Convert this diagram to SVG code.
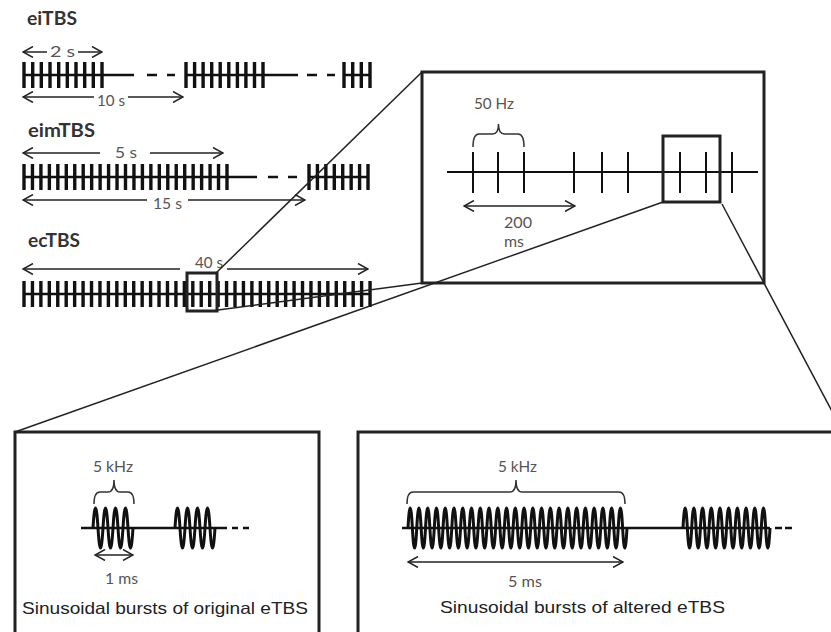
<svg xmlns="http://www.w3.org/2000/svg" width="831" height="632" viewBox="0 0 831 632">
<defs>
<style>
.t{font-family:Lato,"Open Sans",sans-serif;font-weight:bold;font-size:18.5px;fill:#333}
.g{font-family:Lato,"Open Sans",sans-serif;font-size:15.5px;fill:#555}
.cap{font-family:"Liberation Sans",Arial,sans-serif;font-size:16.5px;fill:#222}
.tick{stroke:#111;stroke-width:3.4;fill:none}
.thin{stroke:#111;stroke-width:2;fill:none}
.axis{stroke:#111;stroke-width:2.5;fill:none}
.box{fill:none;stroke:#222;stroke-width:3}
.arr{stroke:#222;stroke-width:1.5;fill:none}
.conn{stroke:#222;stroke-width:1.5;fill:none}
.sine{stroke:#111;stroke-width:3;fill:none}
.brace{stroke:#333;stroke-width:1.5;fill:none}
</style>
<marker id="ah" viewBox="0 0 12 12" refX="11" refY="6" markerWidth="12" markerHeight="12" orient="auto-start-reverse" markerUnits="userSpaceOnUse">
<path d="M1,0.5 L11,6 L1,11.5" fill="none" stroke="#222" stroke-width="1.5"/>
</marker>
</defs>
<rect width="831" height="632" fill="#fff"/>

<g id="eiTBS">
<text class="t" x="27" y="25" textLength="50" lengthAdjust="spacingAndGlyphs">eiTBS</text>
<line class="arr" x1="23" y1="52" x2="47" y2="52" marker-start="url(#ah)"/>
<line class="arr" x1="78" y1="52" x2="102" y2="52" marker-end="url(#ah)"/>
<text class="g" x="50" y="57" textLength="25" lengthAdjust="spacingAndGlyphs">2 s</text>
<path class="axis" d="M23,75H134M147,75H157M167,75H175M186,75H298M307,75H317M327,75H335M344,75H370"/>
<path class="tick" d="M24,62v26M32.7,62v26M41.3,62v26M50,62v26M58.7,62v26M67.3,62v26M76,62v26M84.7,62v26M93.3,62v26M102,62v26M186,62v26M194.6,62v26M203.1,62v26M211.7,62v26M220.2,62v26M228.8,62v26M237.4,62v26M245.9,62v26M254.5,62v26M263,62v26M344,62v26M352.7,62v26M361.3,62v26M370,62v26"/>
<line class="arr" x1="23" y1="97" x2="94" y2="97" marker-start="url(#ah)"/>
<line class="arr" x1="128" y1="97" x2="183" y2="97" marker-end="url(#ah)"/>
<text class="g" x="97" y="106" textLength="28" lengthAdjust="spacingAndGlyphs">10 s</text>
</g>

<g id="eimTBS">
<text class="t" x="28" y="137" textLength="67" lengthAdjust="spacingAndGlyphs">eimTBS</text>
<line class="arr" x1="23" y1="153" x2="100" y2="153" marker-start="url(#ah)"/>
<line class="arr" x1="150" y1="153" x2="223" y2="153" marker-end="url(#ah)"/>
<text class="g" x="115" y="158" textLength="22" lengthAdjust="spacingAndGlyphs">5 s</text>
<path class="axis" d="M23,177H257M268,177H278M288,177H297M308,177H369"/>
<path class="tick" d="M24,164v26m8.458,-26v26m8.458,-26v26m8.458,-26v26m8.458,-26v26m8.458,-26v26m8.458,-26v26m8.458,-26v26m8.458,-26v26m8.458,-26v26m8.458,-26v26m8.458,-26v26m8.458,-26v26m8.458,-26v26m8.458,-26v26m8.458,-26v26m8.458,-26v26m8.458,-26v26m8.458,-26v26m8.458,-26v26m8.458,-26v26m8.458,-26v26m8.458,-26v26m8.458,-26v26m8.458,-26v26M309,164v26m8.43,-26v26m8.43,-26v26m8.43,-26v26m8.43,-26v26m8.43,-26v26m8.43,-26v26m8.43,-26v26"/>
<line class="arr" x1="23" y1="200" x2="147" y2="200" marker-start="url(#ah)"/>
<line class="arr" x1="188" y1="200" x2="305" y2="200" marker-end="url(#ah)"/>
<text class="g" x="153" y="209" textLength="29" lengthAdjust="spacingAndGlyphs">15 s</text>
</g>

<g id="ecTBS">
<text class="t" x="28" y="247" textLength="52" lengthAdjust="spacingAndGlyphs">ecTBS</text>
<line class="arr" x1="23" y1="269" x2="180" y2="269" marker-start="url(#ah)"/>
<line class="arr" x1="227" y1="269" x2="368" y2="269" marker-end="url(#ah)"/>
<text class="g" x="195" y="268" textLength="28" lengthAdjust="spacingAndGlyphs">40 s</text>
<path class="axis" d="M23,294H371"/>
<path class="tick" d="M24,281v26m8.44,-26v26m8.44,-26v26m8.44,-26v26m8.44,-26v26m8.44,-26v26m8.44,-26v26m8.44,-26v26m8.44,-26v26m8.44,-26v26m8.44,-26v26m8.44,-26v26m8.44,-26v26m8.44,-26v26m8.44,-26v26m8.44,-26v26m8.44,-26v26m8.44,-26v26m8.44,-26v26m8.44,-26v26m8.44,-26v26m8.44,-26v26m8.44,-26v26m8.44,-26v26m8.44,-26v26m8.44,-26v26m8.44,-26v26m8.44,-26v26m8.44,-26v26m8.44,-26v26m8.44,-26v26m8.44,-26v26m8.44,-26v26m8.44,-26v26m8.44,-26v26m8.44,-26v26m8.44,-26v26m8.44,-26v26m8.44,-26v26m8.44,-26v26m8.44,-26v26m8.44,-26v26"/>
<rect class="box" x="187" y="273" width="30" height="38"/>
</g>

<g id="zoom-50Hz">
<rect class="box" x="422" y="72" width="342" height="211"/>
<text class="g" x="474" y="109" textLength="40" lengthAdjust="spacingAndGlyphs">50 Hz</text>
<path class="brace" d="M473,147Q473,134 479,134H492.5Q498.5,134 498.5,124Q498.5,134 504.5,134H518Q524,134 524,147"/>
<path class="thin" d="M447,172H758"/>
<path class="thin" d="M473,152v41M498,152v41M524,152v41M574,152v41M602,152v41M628,152v41M680,152v41M706,152v41M732,152v41"/>
<line class="arr" x1="464" y1="206" x2="575" y2="206" marker-start="url(#ah)" marker-end="url(#ah)"/>
<text class="g" x="504" y="228" textLength="28" lengthAdjust="spacingAndGlyphs">200</text>
<text class="g" x="504" y="247" textLength="20" lengthAdjust="spacingAndGlyphs">ms</text>
<rect class="box" x="663" y="136" width="57" height="66"/>
</g>

<g id="burst-original">
<rect class="box" x="15" y="432" width="304" height="210"/>
<text class="g" x="93" y="472" textLength="40" lengthAdjust="spacingAndGlyphs">5 kHz</text>
<path class="brace" d="M94,504Q94,492 100,492H108Q114,492 114,480Q114,492 120,492H128Q134,492 134,504"/>
<path class="axis" d="M81,528H227M232,528H238M243,528H249"/>
<path class="sine" d="M93,528c1.67,-26.7 3.330,-26.7 5,0c1.67,26.7 3.33,26.7 5,0c1.67,-26.7 3.33,-26.7 5,0c1.67,26.7 3.33,26.7 5,0c1.67,-26.7 3.33,-26.7 5,0c1.67,26.7 3.33,26.7 5,0c1.67,-26.7 3.33,-26.7 5,0c1.67,26.7 3.33,26.7 5,0M175,528c1.67,-26.7 3.33,-26.7 5,0c1.67,26.7 3.33,26.7 5,0c1.67,-26.7 3.33,-26.7 5,0c1.67,26.7 3.33,26.7 5,0c1.67,-26.7 3.33,-26.7 5,0c1.67,26.7 3.33,26.7 5,0c1.67,-26.7 3.33,-26.7 5,0c1.67,26.7 3.33,26.7 5,0"/>
<line class="arr" x1="95" y1="555" x2="133" y2="555" marker-start="url(#ah)" marker-end="url(#ah)"/>
<text class="g" x="105" y="584" textLength="33" lengthAdjust="spacingAndGlyphs">1 ms</text>
<text class="cap" x="22" y="614" textLength="286" lengthAdjust="spacingAndGlyphs">Sinusoidal bursts of original eTBS</text>
</g>

<g id="burst-altered">
<rect class="box" x="358" y="432" width="490" height="210"/>
<text class="g" x="498" y="472" textLength="39" lengthAdjust="spacingAndGlyphs">5 kHz</text>
<path class="brace" d="M407,504Q407,492 413,492H510Q516,492 516,480Q516,492 522,492H619Q625,492 625,504"/>
<path class="axis" d="M402,528H770M775,528H782M785,528H792"/>
<path class="sine" d="M408,528c1.46,-26.7 2.92,-26.7 4.38,0c1.46,26.7 2.92,26.7 4.38,0c1.46,-26.7 2.92,-26.7 4.38,0c1.46,26.7 2.92,26.7 4.38,0c1.46,-26.7 2.92,-26.7 4.38,0c1.46,26.7 2.92,26.7 4.38,0c1.46,-26.7 2.92,-26.7 4.38,0c1.46,26.7 2.92,26.7 4.38,0c1.46,-26.7 2.92,-26.7 4.38,0c1.46,26.7 2.92,26.7 4.38,0c1.46,-26.7 2.92,-26.7 4.38,0c1.46,26.7 2.92,26.7 4.38,0c1.46,-26.7 2.92,-26.7 4.38,0c1.46,26.7 2.92,26.7 4.38,0c1.46,-26.7 2.92,-26.7 4.38,0c1.46,26.7 2.92,26.7 4.38,0c1.46,-26.7 2.92,-26.7 4.38,0c1.46,26.7 2.92,26.7 4.38,0c1.46,-26.7 2.92,-26.7 4.38,0c1.46,26.7 2.92,26.7 4.38,0c1.46,-26.7 2.92,-26.7 4.38,0c1.46,26.7 2.92,26.7 4.38,0c1.46,-26.7 2.92,-26.7 4.38,0c1.46,26.7 2.92,26.7 4.38,0c1.46,-26.7 2.92,-26.7 4.38,0c1.46,26.7 2.92,26.7 4.38,0c1.46,-26.7 2.92,-26.7 4.38,0c1.46,26.7 2.92,26.7 4.38,0c1.46,-26.7 2.92,-26.7 4.38,0c1.46,26.7 2.92,26.7 4.38,0c1.46,-26.7 2.92,-26.7 4.38,0c1.46,26.7 2.92,26.7 4.38,0c1.46,-26.7 2.92,-26.7 4.38,0c1.46,26.7 2.92,26.7 4.38,0c1.46,-26.7 2.92,-26.7 4.38,0c1.46,26.7 2.92,26.7 4.38,0c1.46,-26.7 2.92,-26.7 4.38,0c1.46,26.7 2.92,26.7 4.38,0c1.46,-26.7 2.92,-26.7 4.38,0c1.46,26.7 2.92,26.7 4.38,0c1.46,-26.7 2.92,-26.7 4.38,0c1.46,26.7 2.92,26.7 4.38,0c1.46,-26.7 2.92,-26.7 4.38,0c1.46,26.7 2.92,26.7 4.38,0c1.46,-26.7 2.92,-26.7 4.38,0c1.46,26.7 2.92,26.7 4.38,0c1.46,-26.7 2.92,-26.7 4.38,0c1.46,26.7 2.92,26.7 4.38,0c1.46,-26.7 2.92,-26.7 4.38,0c1.46,26.7 2.92,26.7 4.38,0M683,528c1.45,-26.7 2.9,-26.7 4.35,0c1.45,26.7 2.9,26.7 4.35,0c1.45,-26.7 2.9,-26.7 4.35,0c1.45,26.7 2.9,26.7 4.35,0c1.45,-26.7 2.9,-26.7 4.35,0c1.45,26.7 2.9,26.7 4.35,0c1.45,-26.7 2.9,-26.7 4.35,0c1.45,26.7 2.9,26.7 4.35,0c1.45,-26.7 2.9,-26.7 4.35,0c1.45,26.7 2.9,26.7 4.35,0c1.45,-26.7 2.9,-26.7 4.35,0c1.45,26.7 2.9,26.7 4.35,0c1.45,-26.7 2.9,-26.7 4.35,0c1.45,26.7 2.9,26.7 4.35,0c1.45,-26.7 2.9,-26.7 4.35,0c1.45,26.7 2.9,26.7 4.35,0c1.45,-26.7 2.9,-26.7 4.35,0c1.45,26.7 2.9,26.7 4.35,0c1.45,-26.7 2.9,-26.7 4.35,0c1.45,26.7 2.9,26.7 4.35,0"/>
<line class="arr" x1="408" y1="562" x2="623" y2="562" marker-start="url(#ah)" marker-end="url(#ah)"/>
<text class="g" x="508" y="587" textLength="34" lengthAdjust="spacingAndGlyphs">5 ms</text>
<text class="cap" x="440" y="613" textLength="285" lengthAdjust="spacingAndGlyphs">Sinusoidal bursts of altered eTBS</text>
</g>

<g id="connectors">
<line class="conn" x1="216" y1="273" x2="422" y2="72"/>
<line class="conn" x1="218" y1="310" x2="422" y2="283"/>
<line class="conn" x1="663" y1="202" x2="15" y2="432"/>
<line class="conn" x1="722" y1="204" x2="843" y2="432"/>
</g>
</svg>
